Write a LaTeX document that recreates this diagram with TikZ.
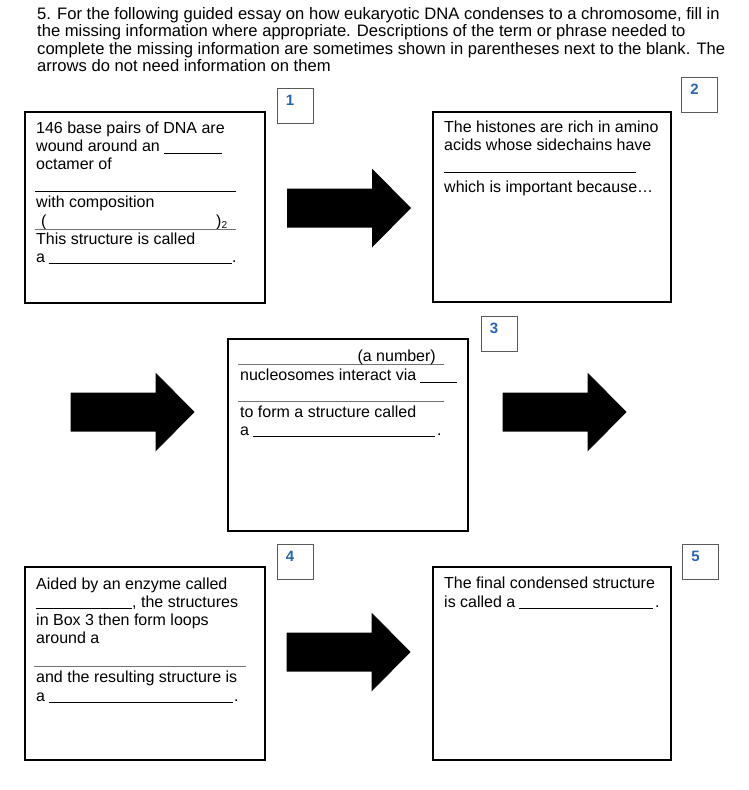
\documentclass[tikz,border=0pt]{standalone}
\usepackage{fontspec}
\setmainfont{Liberation Sans}
\newcommand{\boxfont}{\fontsize{16}{18}\selectfont}
\newcommand{\headfont}{\fontsize{16.6}{17.7}\selectfont}
\definecolor{numblue}{RGB}{40,100,180}
\tikzset{
  essaybox/.style={draw, line width=2.4pt, rectangle, inner sep=0pt},
  numbox/.style={draw=black!65, line width=0.8pt, rectangle, inner sep=0pt,
    minimum width=36pt, minimum height=35pt},
  numtext/.style={anchor=north west, inner sep=0pt, text=numblue,
    font=\fontsize{15}{15}\selectfont\bfseries},
  txt/.style={anchor=base west, inner sep=0pt, font=\boxfont},
  headline/.style={anchor=base west, inner sep=0pt, font=\headfont},
  blank/.style={line width=0.8pt},
  rule/.style={line width=0.9pt, black!55},
  pics/blockarrow/.style={code={
    \fill (-62,-19.5) -- (23,-19.5) -- (23,-39.5) -- (62,0)
      -- (23,39.5) -- (23,19.5) -- (-62,19.5) -- cycle;}}
}
\begin{document}
\begin{tikzpicture}[x=1pt, y=-1pt]
  \useasboundingbox (0,0) rectangle (749,790);

  % heading
  \node[headline] (head1) at (37,19) {5. For the following guided essay on how eukaryotic DNA condenses to a chromosome, fill in};
  \node[headline] (head2) at (37,36.5) {the missing information where appropriate. Descriptions of the term or phrase needed to};
  \node[headline] (head3) at (37,54) {complete the missing information are sometimes shown in parentheses next to the blank. The};
  \node[headline] (head4) at (37,71.5) {arrows do not need information on them};

  % boxes
  \node[essaybox, minimum width=240pt, minimum height=191pt] (box1) at (145,207.5) {};
  \node[essaybox, minimum width=238pt, minimum height=190pt] (box2) at (552,207) {};
  \node[essaybox, minimum width=240pt, minimum height=192pt] (box3) at (348,435) {};
  \node[essaybox, minimum width=240pt, minimum height=193pt] (box4) at (145,663.5) {};
  \node[essaybox, minimum width=238pt, minimum height=193pt] (box5) at (552,663.5) {};

  % number boxes
  \node[numbox] (num1) at (295,105.5) {};
  \node[numbox] (num2) at (699.5,94.5) {};
  \node[numbox] (num3) at (499,334) {};
  \node[numbox] (num4) at (295,561.5) {};
  \node[numbox] (num5) at (700.5,561.5) {};
  \node[numtext] (dig1) at ([xshift=9pt, yshift=-7pt]num1.north west) {1};
  \node[numtext] (dig2) at ([xshift=9pt, yshift=-7pt]num2.north west) {2};
  \node[numtext] (dig3) at ([xshift=9pt, yshift=-7pt]num3.north west) {3};
  \node[numtext] (dig4) at ([xshift=9pt, yshift=-7pt]num4.north west) {4};
  \node[numtext] (dig5) at ([xshift=9pt, yshift=-7pt]num5.north west) {5};

  % arrows
  \pic (arr1) at (349,208) {blockarrow};
  \pic (arr2) at (132.5,412) {blockarrow};
  \pic (arr3) at (564.5,412) {blockarrow};
  \pic (arr4) at (348.5,652) {blockarrow};

  % box 1
  \node[txt] (b1a) at (36,133) {146 base pairs of DNA are};
  \node[txt] (b1b) at (36,151) {wound around an};
  \draw[blank] (164,153) -- (222,153);
  \node[txt] (b1c) at (36,169) {octamer of};
  \draw[blank] (35,191) -- (236,191);
  \node[txt] (b1d) at (36,207) {with composition};
  \node[txt] (b1e) at (41,226) {(};
  \node[txt] (b1f) at (216,226) {)\raisebox{-0.25ex}{\fontsize{10}{10}\selectfont 2}};
  \draw[rule] (35,229) -- (236,229);
  \node[txt] (b1g) at (36,244) {This structure is called};
  \node[txt] (b1h) at (36,262) {a};
  \draw[blank] (49,263) -- (232,263);
  \node[txt] (b1i) at (232,262) {.};

  % box 2
  \node[txt] (b2a) at (444,132) {The histones are rich in amino};
  \node[txt] (b2b) at (444,150) {acids whose sidechains have};
  \draw[blank] (444,172) -- (636,172);
  \node[txt] (b2c) at (444,192) {which is important because\ldots};

  % box 3
  \draw[rule] (238,364) -- (444,364);
  \node[txt, anchor=base east] (b3a) at (436,361) {(a number)};
  \node[txt] (b3b) at (240,380) {nucleosomes interact via};
  \draw[blank] (420,382) -- (457,382);
  \draw[rule] (238,401) -- (444,401);
  \node[txt] (b3c) at (240,417) {to form a structure called};
  \node[txt] (b3d) at (240,435) {a};
  \draw[blank] (253,436) -- (435,436);
  \node[txt] (b3e) at (437,435) {.};

  % box 4
  \node[txt] (b4a) at (36,589) {Aided by an enzyme called};
  \draw[blank] (36,608) -- (132,608);
  \node[txt] (b4b) at (132,607) {, the structures};
  \node[txt] (b4c) at (36,625) {in Box 3 then form loops};
  \node[txt] (b4d) at (36,643) {around a};
  \draw[rule] (34,666) -- (246,666);
  \node[txt] (b4e) at (36,682) {and the resulting structure is};
  \node[txt] (b4f) at (36,701) {a};
  \draw[blank] (49,702) -- (233,702);
  \node[txt] (b4g) at (234,701) {.};

  % box 5
  \node[txt] (b5a) at (444,588) {The final condensed structure};
  \node[txt] (b5b) at (444,607) {is called a};
  \draw[blank] (519,608) -- (653,608);
  \node[txt] (b5c) at (655,607) {.};
\end{tikzpicture}
\end{document}
